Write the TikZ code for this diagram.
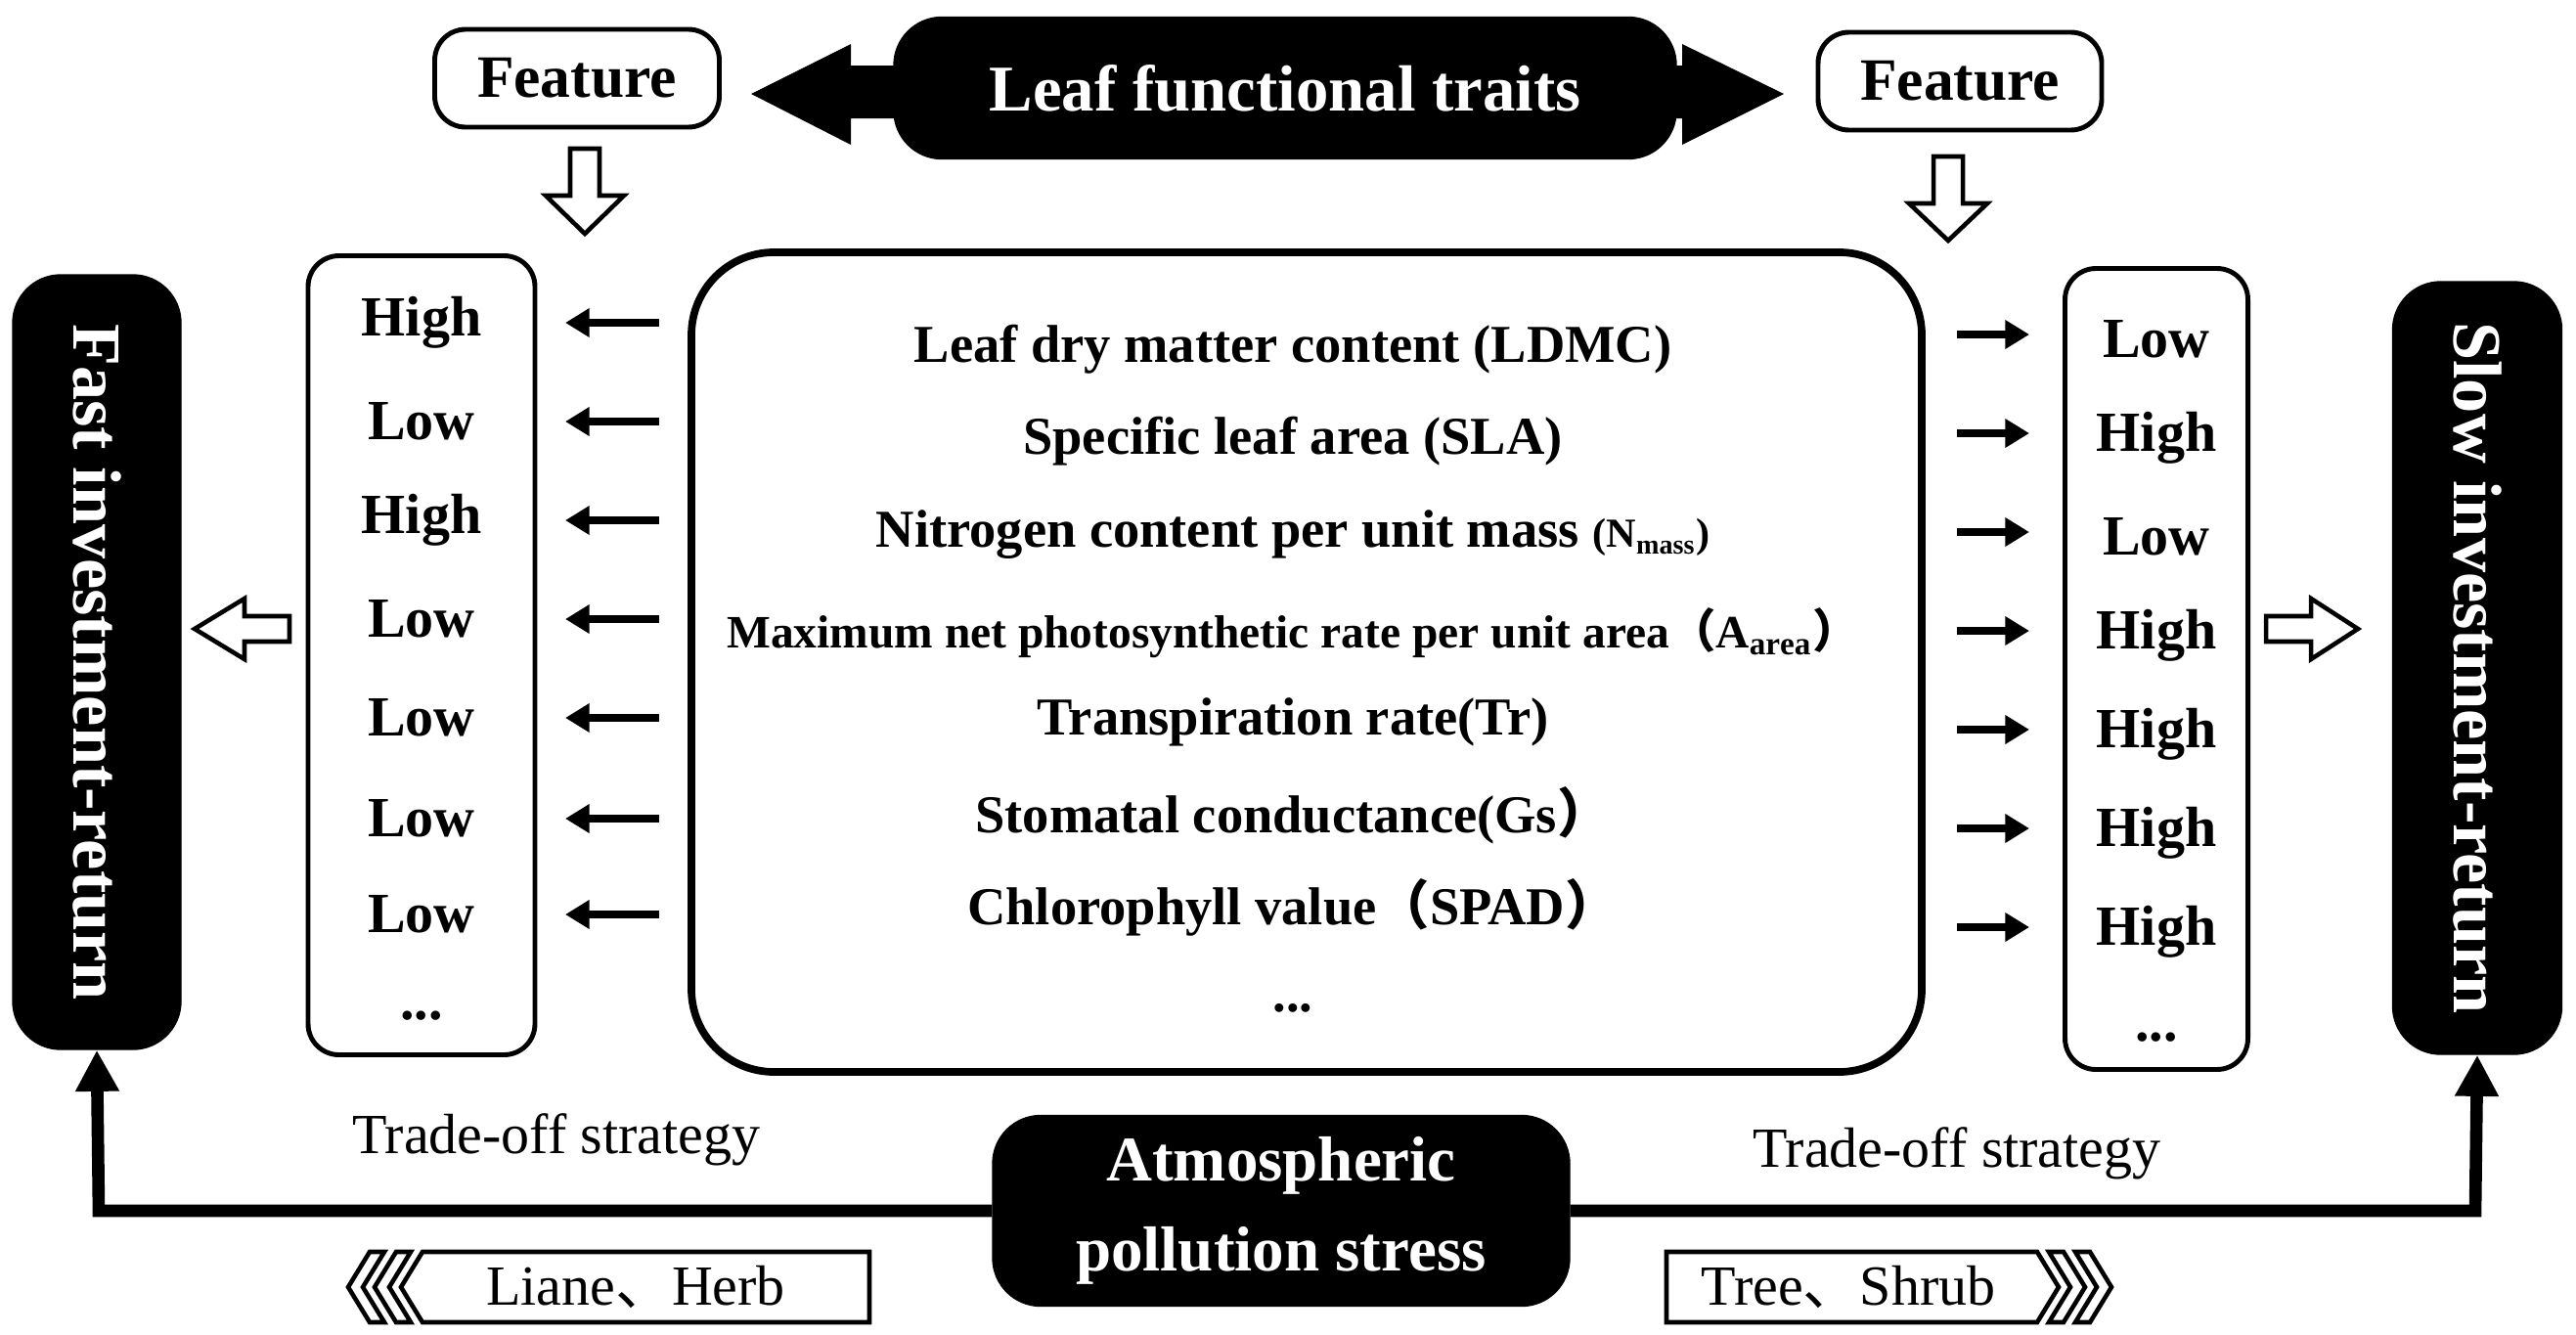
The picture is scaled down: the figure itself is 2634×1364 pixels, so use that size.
\documentclass[tikz,border=0pt]{standalone}
\usepackage{fontspec}
\setmainfont{Liberation Serif}
\newfontfamily\cjk{Noto Sans CJK SC}
\usetikzlibrary{arrows.meta}
\begin{document}
\begin{tikzpicture}[x=0.1mm,y=-0.1mm,
  blk/.style={fill=black,rounded corners=14pt,draw=black},
  wbox/.style={draw=black,line width=1.4pt,rounded corners=9pt,fill=white},
  row/.style={font=\bfseries\fontsize{15.5}{18}\selectfont,anchor=center},
  hv/.style={font=\bfseries\fontsize{16.5}{19}\selectfont,anchor=center},
  sarr/.style={-{Triangle[length=7pt,width=8pt]},line width=2.4pt},
  hol/.style={draw=black,line width=1.3pt,fill=white}]
\useasboundingbox (0,0) rectangle (2634,1364);
% top
\fill (768,96) -- (870,45) -- (870,67) -- (1720,67) -- (1720,45) -- (1824,96) -- (1720,148) -- (1720,121) -- (870,121) -- (870,148) -- cycle;
\node[blk,minimum width=8cm,minimum height=1.45cm,text=white,font=\bfseries\fontsize{19}{22}\selectfont] (lft) at (1314,90) {Leaf functional traits};
\node[wbox,minimum width=2.91cm,minimum height=1cm,font=\bfseries\fontsize{17.5}{20}\selectfont] (f1) at (590,80) {Feature};
\node[wbox,minimum width=2.9cm,minimum height=1cm,font=\bfseries\fontsize{17.5}{20}\selectfont] (f2) at (2004,83) {Feature};
\draw[hol] (583,152) -- (613,152) -- (613,200) -- (638,200) -- (598,239) -- (558,200) -- (583,200) -- cycle;
\draw[hol] (1977,160) -- (2007,160) -- (2007,208) -- (2032,208) -- (1992,246) -- (1952,208) -- (1977,208) -- cycle;
% side black boxes
\node[blk,minimum width=1.72cm,minimum height=7.92cm] (fast) at (99,677) {};
\node[rotate=-90,text=white,font=\bfseries\fontsize{20}{24}\selectfont] at (fast) {Fast investment-return};
\node[blk,minimum width=1.73cm,minimum height=7.9cm] (slow) at (2533,683) {};
\node[rotate=-90,text=white,font=\bfseries\fontsize{20}{24}\selectfont] at (slow) {Slow investment-return};
\draw[hol] (296,630) -- (250,630) -- (250,612) -- (199,643) -- (250,674) -- (250,656) -- (296,656) -- cycle;
\draw[hol] (2317,630) -- (2363,630) -- (2363,612) -- (2411,643) -- (2363,674) -- (2363,656) -- (2317,656) -- cycle;
% columns
\node[wbox,minimum width=2.32cm,minimum height=8.17cm] (lc) at (431,670) {};
\node[wbox,minimum width=1.87cm,minimum height=8.19cm] (rc) at (2205,684) {};
\node[draw=black,line width=2.2pt,rounded corners=24pt,minimum width=12.58cm,minimum height=8.38cm] (cb) at (1336,677) {};
\foreach \t/\y in {High/330,Low/431,High/532,Low/633,Low/734,Low/837,Low/935} {
  \node[hv] at (431,\y) {\t};
  \coordinate (la) at (674,\y); \coordinate (lb) at (578,\y);
  \draw[sarr] (la) -- (lb);
}
\node[hv] at (431,1039) {...};
\foreach \t/\y in {Low/347,High/448,Low/549,High/650,High/751,High/852,High/953} {
  \node[hv] at (2205,\y) {\t};
  \coordinate (ra) at (2001,\y-5); \coordinate (rb) at (2075,\y-5);
  \draw[sarr] (ra) -- (rb);
}
\node[hv] at (2205,1061) {...};
\node[row] at (1322,357) {Leaf dry matter content (LDMC)};
\node[row] at (1322,451) {Specific leaf area (SLA)};
\node[row] at (1322,547) {Nitrogen content per unit mass {\fontsize{12}{14}\selectfont(N$_{\mathbf{mass}}$)}};
\node[row,font=\bfseries\fontsize{13.5}{16}\selectfont] at (1322,647) {Maximum net photosynthetic rate per unit area{\cjk （}A$_{\mathbf{area}}${\cjk ）}};
\node[row] at (1322,738) {Transpiration rate(Tr)};
\node[row] at (1322,834) {Stomatal conductance(Gs{\cjk ）}};
\node[row] at (1322,928) {Chlorophyll value{\cjk （}SPAD{\cjk ）}};
\node[row] at (1322,1031) {...};
% bottom
\node[blk,minimum width=5.9cm,minimum height=1.95cm,text=white,align=center,font=\bfseries\fontsize{18.5}{26}\selectfont] (aps) at (1310,1238) {Atmospheric\\pollution stress};
\coordinate (lb1) at (101,1238); \coordinate (rb1) at (2531,1238);
\draw[line width=3.6pt,-{Triangle[length=12pt,width=12pt]}] (aps.west) -- (lb1) -- (fast.south);
\draw[line width=3.6pt,-{Triangle[length=12pt,width=12pt]}] (aps.east) -- (rb1) -- (slow.south);
\node[font=\fontsize{16.5}{20}\selectfont] (t1) at (569,1165) {Trade-off strategy};
\node[font=\fontsize{16.5}{20}\selectfont] (t2) at (2001,1179) {Trade-off strategy};
% chevron boxes
\draw[hol] (889,1280) -- (432,1280) -- (410,1316) -- (432,1352) -- (889,1352) -- cycle;
\draw[hol] (420,1280) -- (398,1316) -- (420,1352) -- (405,1352) -- (383,1316) -- (405,1280) -- cycle;
\draw[hol] (393,1280) -- (371,1316) -- (393,1352) -- (378,1352) -- (356,1316) -- (378,1280) -- cycle;
\node[font=\fontsize{16.5}{20}\selectfont] (lh) at (650,1316) {Liane{\cjk 、}Herb};
\draw[hol] (1704,1280) -- (2083,1280) -- (2105,1316) -- (2083,1352) -- (1704,1352) -- cycle;
\draw[hol] (2095,1280) -- (2117,1316) -- (2095,1352) -- (2110,1352) -- (2132,1316) -- (2110,1280) -- cycle;
\draw[hol] (2122,1280) -- (2144,1316) -- (2122,1352) -- (2137,1352) -- (2159,1316) -- (2137,1280) -- cycle;
\node[font=\fontsize{16.5}{20}\selectfont] (ts) at (1890,1316) {Tree{\cjk 、}Shrub};
\end{tikzpicture}
\end{document}
